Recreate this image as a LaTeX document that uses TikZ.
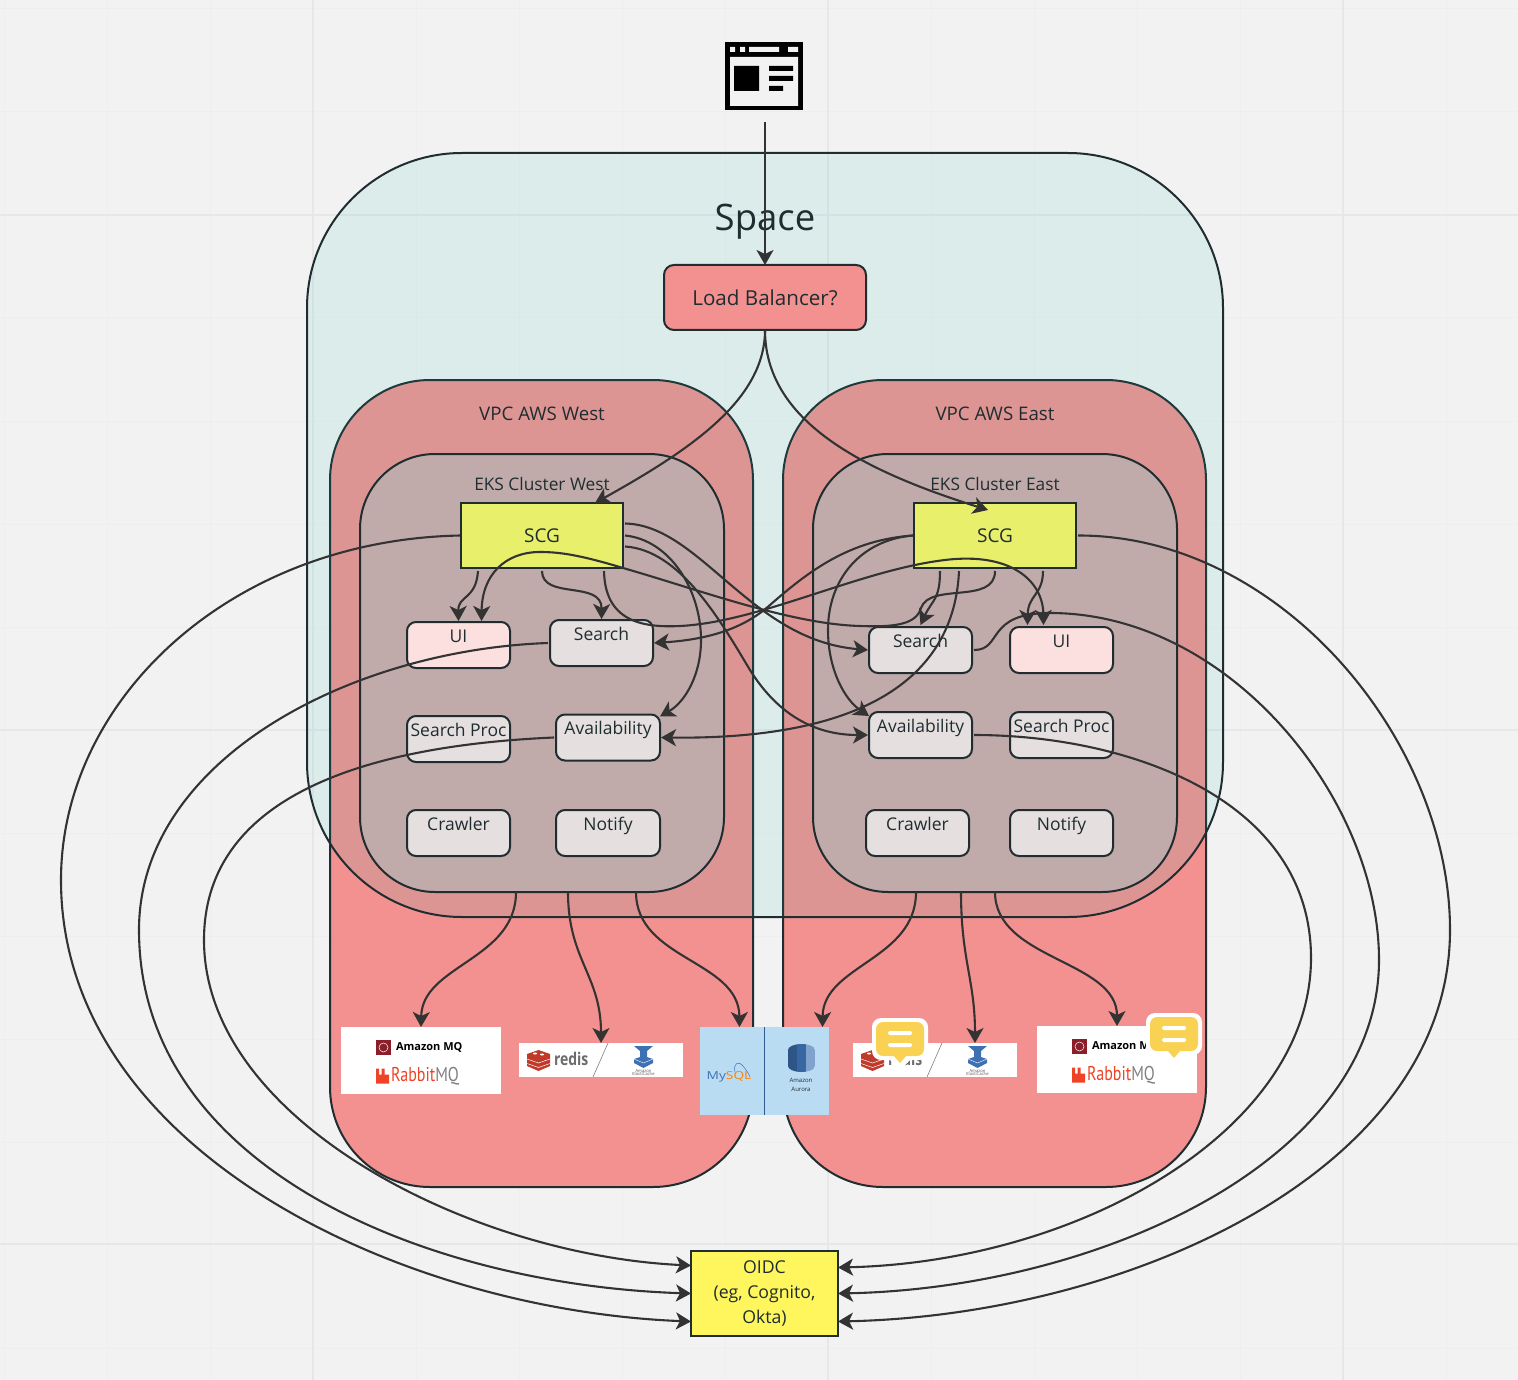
\documentclass[tikz,border=0pt]{standalone}
\usepackage{fontspec}
\setmainfont{Open Sans}
\newfontfamily\ptfont{PT Sans}
\usetikzlibrary{arrows.meta,calc}
\definecolor{bgc}{HTML}{F2F2F2}
\definecolor{gridminor}{HTML}{EEEEEE}
\definecolor{gridmajor}{HTML}{E7E7E7}
\definecolor{inkc}{HTML}{1F2D30}
\definecolor{linec}{HTML}{333333}
\definecolor{vpcc}{HTML}{F29190}
\definecolor{spacec}{RGB}{18,188,178}
\definecolor{clusterc}{HTML}{C1ABAA}
\definecolor{greyboxc}{HTML}{E5DFDF}
\definecolor{pinkc}{HTML}{FCE0E0}
\definecolor{scgc}{HTML}{E8EF6A}
\definecolor{oidcc}{HTML}{FFF65E}
\definecolor{dbc}{HTML}{B9DCF3}
\definecolor{notec}{HTML}{F9D254}
\definecolor{rabbitc}{HTML}{EE4326}
\definecolor{mqc}{HTML}{8A1F2A}
\definecolor{redisc}{HTML}{BF3A2B}
\definecolor{cacheb}{HTML}{3C72B4}
\tikzset{
  x=1pt,y=-1pt,
  every node/.style={inner sep=0pt,outer sep=0pt,text=inkc},
  txt/.style={font=\fontsize{18.7}{24}\selectfont},
  outline/.style={draw=inkc,line width=2pt},
  vpcbox/.style={outline,fill=vpcc,rounded corners=100pt,minimum width=423pt,minimum height=807pt},
  clusterbox/.style={outline,fill=clusterc,rounded corners=75pt,minimum width=364pt,minimum height=438pt},
  svc/.style={outline,rounded corners=9pt,minimum width=103pt,text height=20pt,text depth=26pt,
     font=\fontsize{17.5}{20}\selectfont},
  greysvc/.style={svc,fill=greyboxc},
  pinksvc/.style={svc,fill=pinkc},
  scgbox/.style={outline,fill=scgc,minimum width=162pt,text height=39.5pt,text depth=25.5pt,font=\fontsize{19}{24}\selectfont},
  conn/.style={draw=linec,line width=2.1pt},
  arr/.style={conn,-{Stealth[length=15pt,width=17pt,inset=4pt]}},
  notepic/.pic={
    \path[fill=white,rounded corners=9pt] (-28,-23) rectangle (28,19);
    \path[fill=white] (-11,18) -- (0,29) -- (11,18) -- cycle;
    \path[fill=notec,rounded corners=7pt] (-24,-19) rectangle (24,15);
    \path[fill=notec] (-7,14) -- (0,22) -- (7,14) -- cycle;
    \path[fill=white,rounded corners=1.5pt] (-12,-10) rectangle (12,-6);
    \path[fill=white,rounded corners=1.5pt] (-12,2) rectangle (12,6);
  },
  mqpic/.pic={
    \path[fill=mqc] (-45,-20.5) rectangle (-30,-5.5);
    \draw[white,line width=.5pt] (-37.5,-13) circle (4.5);
    \node[font=\fontsize{11}{12}\selectfont\bfseries,text=black,anchor=west] (-) at (-25,-13) {Amazon MQ};
    \path[fill=rabbitc] (-45,14) rectangle (-32,23) (-45,8) rectangle (-42,14) (-39.5,8) rectangle (-36.5,14);
    \node[font=\fontsize{20}{22}\ptfont,anchor=west,text=rabbitc] (-) at (-30,16) {\scalebox{.8}[1]{Rabbit\textcolor{gray}{MQ}}};
  },
  redispic/.pic={
    \path[fill=redisc] (-74,-6) -- (-62.5,-10) -- (-51,-6) -- (-51,6) -- (-62.5,11) -- (-74,6) -- cycle;
    \draw[white,line width=.5pt] (-74,-1) -- (-62.5,3) -- (-51,-1) (-74,3.5) -- (-62.5,7.5) -- (-51,3.5);
    \path[fill=white] (-66,-6.5) circle[x radius=2,y radius=1] (-59,-5.5) circle[x radius=2,y radius=1];
    \node[font=\fontsize{17.5}{20}\selectfont\bfseries,text=gray!85!black,anchor=west] (-) at (-47,-1) {\scalebox{.8}[1]{redis}};
    \draw[gray,line width=.6pt] (-8,17) -- (7,-17);
    \path[fill=cacheb] (33,-14) -- (52,-14) -- (46,-9) -- (46,-3) -- (52,-1) -- (52,3) -- (42.5,8) -- (33,3) -- (33,-1) -- (39,-3) -- (39,-9) -- cycle;
    \draw[white,line width=.4pt] (33,-1) -- (42.5,3) -- (52,-1);
    \node[font=\fontsize{4.2}{4.6}\selectfont,align=center,text=gray!70!black] (-) at (42.5,12.5) {Amazon\\[-1pt]ElastiCache};
  }
}
\begin{document}
\begin{tikzpicture}
\useasboundingbox (0,0) rectangle (1518,1380);
% backdrop
\path[fill=bgc] (0,0) rectangle (1518,1380);
\foreach \gx in {4,107,210,416,519,622,725,931,1034,1137,1240,1446} \draw[gridminor,line width=1pt] (\gx,0) -- (\gx,1380);
\foreach \gy in {9,112,318,421,524,627,833,936,1039,1142,1348} \draw[gridminor,line width=1pt] (0,\gy) -- (1518,\gy);
\foreach \gx in {313,828,1343} \draw[gridmajor,line width=1.5pt] (\gx,0) -- (\gx,1380);
\foreach \gy in {215,730,1244} \draw[gridmajor,line width=1.5pt] (0,\gy) -- (1518,\gy);
% containers
\node[vpcbox] (vpcW) at (541.5,783.5) {};
\node[vpcbox] (vpcE) at (994.5,783.5) {};
\node[draw=inkc,line width=2pt,fill=spacec,fill opacity=.094,rounded corners=155pt,minimum width=916pt,minimum height=764pt] (space) at (765,535) {};
\node[clusterbox] (clW) at (542,673) {};
\node[clusterbox] (clE) at (995,673) {};
\node[font=\fontsize{36.5}{40}\selectfont] (spaceL) at (765,222) {Space};
\node[txt] (vpcWL) at (542,414) {VPC AWS West};
\node[txt] (vpcEL) at (995,414) {VPC AWS East};
\node[font=\fontsize{17.3}{20}\selectfont] (clWL) at (542,484) {EKS Cluster West};
\node[font=\fontsize{17.3}{20}\selectfont] (clEL) at (995,484) {EKS Cluster East};
% browser icon
\node[fill=black,minimum width=78pt,minimum height=68pt] (icon) at (764,76) {};
\path[fill=bgc] (730,57) rectangle (798,106)
  (730,47) rectangle (735,52) (740,47) rectangle (745,52) (749,47) rectangle (779,52) (788,47) rectangle (798,52);
\path[fill=black] (734,66) rectangle (759,91) (769,66) rectangle (793,71) (769,76) rectangle (793,81) (769,86) rectangle (783,91);
% main nodes
\node[outline,fill=vpcc,rounded corners=10pt,minimum width=202pt,text height=40.5pt,text depth=24.5pt,font=\fontsize{20.6}{24}\selectfont] (lb) at (765,297.5) {Load Balancer?};
\node[scgbox] (scgW) at (542,535.5) {SCG};
\node[scgbox] (scgE) at (995,535.5) {SCG};
\node[pinksvc] (uiW) at (458.5,645) {UI};
\node[greysvc] (searchW) at (601.5,643) {Search};
\node[greysvc] (procW) at (458.5,739) {Search Proc};
\node[greysvc,minimum width=104pt] (availW) at (608,737.5) {Availability};
\node[greysvc] (crawlW) at (458.5,833) {Crawler};
\node[greysvc,minimum width=104pt] (notifyW) at (608,833) {Notify};
\node[greysvc] (searchE) at (920.5,650) {Search};
\node[pinksvc] (uiE) at (1061.5,650) {UI};
\node[greysvc] (availE) at (920.5,735) {Availability};
\node[greysvc] (procE) at (1061.5,735) {Search Proc};
\node[greysvc] (crawlE) at (917.5,833) {Crawler};
\node[greysvc] (notifyE) at (1061.5,833) {Notify};
\node[outline,fill=oidcc,minimum width=147pt,minimum height=85pt,align=center,font=\fontsize{17.7}{25}\selectfont] (oidc) at (764.5,1293.5) {OIDC\\(eg, Cognito,\\Okta)};
% logos
\node[fill=white,minimum width=160pt,minimum height=67pt] (mqW) at (421,1060.5) {};
\pic at (421,1060.5) {mqpic};
\node[fill=white,minimum width=164pt,minimum height=34pt] (redisW) at (601,1060) {};
\pic at (601,1060) {redispic};
\node[fill=dbc,minimum width=129pt,minimum height=88pt] (dbs) at (764.5,1071) {};
\draw[cacheb!80!black,line width=1pt] (dbs.north) -- (dbs.south);
\node[font=\fontsize{11}{12}\selectfont,text=cacheb] (mysqlL) at (729,1077) {\scalebox{1.25}[1]{My\textcolor{orange}{SQL}}};
\draw[cacheb,line width=.5pt] (735,1072) .. controls (733,1064) and (738,1060) .. (743,1066) .. controls (746,1070) and (748,1072) .. (750,1077);
\begin{scope}
\clip (788,1050) arc[start angle=180,end angle=360,x radius=13.5,y radius=6] -- (815,1066) arc[start angle=0,end angle=180,x radius=13.5,y radius=6] -- cycle;
\path[fill=cacheb!75!black] (788,1040) rectangle (797,1076);
\path[fill=cacheb!90!black] (797,1040) rectangle (806,1076);
\path[fill=cacheb!65!white] (806,1040) rectangle (815,1076);
\end{scope}
\node[font=\fontsize{6}{9.5}\selectfont,align=center] (auroraL) at (801,1085) {Amazon\\Aurora};
\node[fill=white,minimum width=164pt,minimum height=34pt] (redisE) at (935,1060) {};
\pic at (935,1060) {redispic};
\node[fill=white,minimum width=160pt,minimum height=67pt] (mqE) at (1117,1059.5) {};
\pic at (1117,1059.5) {mqpic};
% connectors
\draw[arr] ($(icon.south)+(1,12)$) -- (lb.north);
\draw[arr] (lb.south) .. controls (765,400) and (690,450) .. ($(scgW.north)+(53,0)$);
\draw[arr] (lb.south) .. controls (765,420) and (860,470) .. ($(scgE.north)+(-7,7)$);
% west SCG
\draw[arr] ($(scgW.south)+(-64,3)$) .. controls (476,600) and (458,595) .. ($(uiW.north)+(0,-1)$);
\draw[arr] ($(scgW.south)+(0,3)$) .. controls (542,600) and (602,580) .. ($(searchW.north)+(0,-1)$);
\draw[arr] ($(scgW.east)+(2,-12)$) .. controls (700,525) and (750,640) .. ($(searchE.west)+(-1,0)$);
\draw[arr] ($(scgW.east)+(2,0)$) .. controls (670,540) and (701,590) .. (701,640) .. controls (701,675) and (685,702) .. ($(availW.north east)+(0,2)$);
\draw[arr] ($(scgW.east)+(2,11)$) .. controls (680,550) and (720,620) .. (750,670) .. controls (775,710) and (810,735) .. ($(availE.west)+(-1,0)$);
\draw[arr] ($(scgW.south)+(62,3)$) .. controls (605,620) and (640,628) .. (680,626) .. controls (760,622) and (860,570) .. (945,560) .. controls (1010,552) and (1043,580) .. ($(uiE.north)+(-18,-2)$);
% east SCG
\draw[arr] ($(scgE.south)+(-55,3)$) .. controls (940,600) and (932,600) .. ($(searchE.north)+(0,-2)$);
\draw[arr] ($(scgE.south)+(48,3)$) .. controls (1043,595) and (1028,595) .. ($(uiE.north)+(-34,-2)$);
\draw[arr] ($(scgE.south)+(0,3)$) .. controls (995,605) and (930,582) .. (921,608) .. controls (916,626) and (890,627) .. (860,626) .. controls (790,624) and (700,590) .. (623,568) .. controls (580,555) and (560,552) .. (540,552) .. controls (505,552) and (482,575) .. ($(uiW.north)+(23,-1)$);
\draw[arr] ($(scgE.west)+(-1,0)$) .. controls (850,540) and (810,570) .. (770,605) .. controls (740,632) and (700,640) .. ($(searchW.east)+(1,0)$);
\draw[arr] ($(scgE.west)+(-1,0)$) .. controls (860,540) and (828,580) .. (828,630) .. controls (828,670) and (845,700) .. ($(availE.north west)+(0,4)$);
\draw[arr] ($(scgE.south)+(-36,3)$) .. controls (955,660) and (890,740) .. ($(availW.east)+(1,0)$);
% to OIDC, west
\draw[arr] ($(scgW.west)+(-1,0)$) .. controls (230,540) and (61,700) .. (61,880) .. controls (61,1150) and (400,1310) .. ($(oidc.west)+(0,28)$);
\draw[arr] ($(searchW.west)+(-2,0)$) .. controls (350,650) and (139,760) .. (139,930) .. controls (139,1170) and (430,1285) .. (oidc.west);
\draw[arr] ($(availW.west)+(-2,0)$) .. controls (380,745) and (204,790) .. (204,940) .. controls (204,1120) and (470,1255) .. ($(oidc.west)+(0,-28)$);
% to OIDC, east
\draw[arr] ($(scgE.east)+(2,0)$) .. controls (1280,535) and (1450,740) .. (1450,930) .. controls (1450,1170) and (1130,1315) .. ($(oidc.east)+(0,28)$);
\draw[arr] ($(searchE.east)+(2,0)$) .. controls (1003,650) and (985,613) .. (1050,613) .. controls (1230,613) and (1379,800) .. (1379,960) .. controls (1379,1160) and (1100,1288) .. (oidc.east);
\draw[arr] ($(availE.east)+(2,0)$) .. controls (1130,735) and (1311,800) .. (1311,958) .. controls (1311,1130) and (1080,1262) .. ($(oidc.east)+(0,-26)$);
% to data stores
\draw[arr] ($(clW.south)+(-26,0)$) .. controls (516,960) and (422,965) .. (mqW.north);
\draw[arr] ($(clW.south)+(26,0)$) .. controls (568,960) and (601,975) .. (redisW.north);
\draw[arr] ($(clW.south)+(94,0)$) .. controls (636,960) and (739,960) .. ($(dbs.north)+(-25,0)$);
\draw[arr] ($(clE.south)+(-79,0)$) .. controls (916,960) and (823,965) .. ($(dbs.north)+(58,0)$);
\draw[arr] ($(clE.south)+(-34,0)$) .. controls (961,960) and (975,980) .. ($(redisE.north)+(40,0)$);
\draw[arr] ($(clE.south)+(0,0)$) .. controls (995,960) and (1117,960) .. (mqE.north);
% comments
\pic at (900,1041) {notepic};
\pic at (1174,1036) {notepic};
\end{tikzpicture}
\end{document}
